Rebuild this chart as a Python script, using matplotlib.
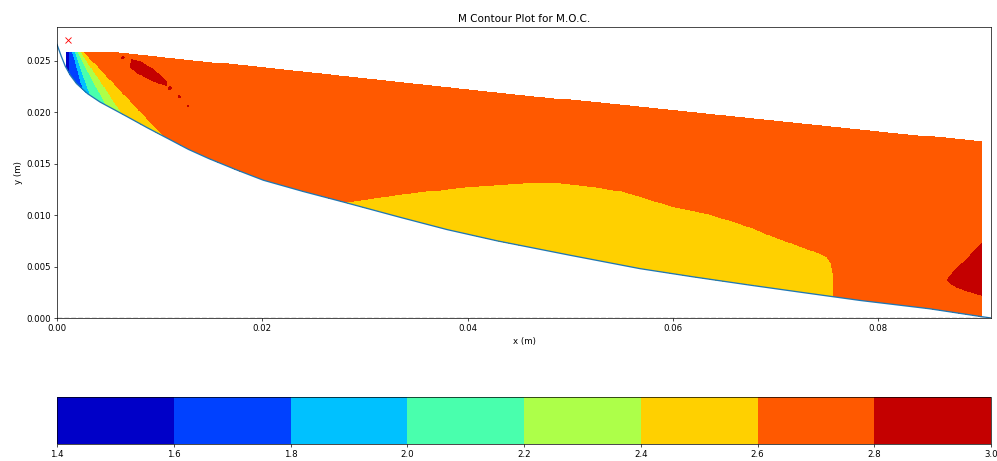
import numpy as np
import matplotlib
matplotlib.use('Agg')
import matplotlib.pyplot as plt
from matplotlib.path import Path

# wall contour
wall_x = [0.0, 0.0004, 0.0008, 0.0013, 0.0019, 0.0030, 0.0042, 0.0055, 0.0068, 0.0088,
          0.0109, 0.0128, 0.0148, 0.0175, 0.0201, 0.0240, 0.0282, 0.0334, 0.0380, 0.0429,
          0.0500, 0.0568, 0.0620, 0.0675, 0.0725, 0.0783, 0.0850, 0.0903, 0.0910]
wall_y = [0.0266, 0.0255, 0.0245, 0.0236, 0.0228, 0.0218, 0.0210, 0.0203, 0.0196, 0.0185,
          0.0174, 0.0164, 0.0155, 0.0144, 0.0134, 0.0123, 0.0112, 0.0098, 0.0086, 0.0075,
          0.0061, 0.0048, 0.0040, 0.0032, 0.0025, 0.0017, 0.0009, 0.0001, 0.0]

# upper edge of the computed domain
top_x = [0.00088, 0.00565, 0.0432, 0.0901]
top_y = [0.02588, 0.02588, 0.02191, 0.01715]

# expansion fan: boundaries between M bands (1.6, 1.8, ..., 2.6)
fan_top_x = [0.00127, 0.00149, 0.00175, 0.00202, 0.00234, 0.00266]
fan_wall_x = [0.00127, 0.00224, 0.00305, 0.0047, 0.0063, 0.0107]
fan_wall_y = [0.0248, 0.0233, 0.0223, 0.0209, 0.0200, 0.0174]
M_first = 1.5
M_step = 0.2

# region with M between 2.4 and 2.6
yellow_x = [0.0281, 0.0331, 0.0396, 0.0461, 0.0487, 0.0526, 0.0552, 0.0568, 0.0601, 0.0633,
            0.0666, 0.0698, 0.0744, 0.0750, 0.0754, 0.0757, 0.0757, 0.0757, 0.0281]
yellow_y = [0.01125, 0.01196, 0.01277, 0.0132, 0.0132, 0.01277, 0.01229, 0.0118, 0.01083, 0.01018,
            0.00921, 0.00791, 0.00629, 0.00600, 0.00540, 0.00402, 0.0024, 0.0, 0.0]
M_yellow = 2.5

# regions with M above 2.8
red_lobe_x = [0.0920, 0.0901, 0.0893, 0.0886, 0.0877, 0.0871, 0.0868, 0.0870, 0.0876, 0.0887, 0.0901, 0.0920]
red_lobe_y = [0.0075, 0.00727, 0.0064, 0.00564, 0.00480, 0.00420, 0.00375, 0.00340, 0.00305, 0.00265, 0.00224, 0.0020]
red_streak_x = [0.00728, 0.00825, 0.00923, 0.01020, 0.01069, 0.01069, 0.00988, 0.00890, 0.00793, 0.00711]
red_streak_y = [0.02510, 0.02487, 0.02422, 0.02347, 0.02299, 0.02257, 0.02283, 0.02332, 0.02380, 0.02445]
red_dot_x = [0.00646, 0.0110, 0.01192, 0.01277]
red_dot_y = [0.02532, 0.02234, 0.02153, 0.02062]
red_dot_r = [0.00012, 0.00016, 0.00011, 0.00007]
M_red = 2.9

levels = [1.4, 1.6, 1.8, 2.0, 2.2, 2.4, 2.6, 2.8, 3.0]

# build the field on a grid
xs = np.linspace(0, 0.091, 900)
ys = np.linspace(0, 0.0283, 300)
X, Y = np.meshgrid(xs, ys)

count = np.zeros_like(X)
for tx, wx, wy in zip(fan_top_x, fan_wall_x, fan_wall_y):
    xline = tx + (wx - tx) * (top_y[0] - Y) / (top_y[0] - wy)
    count += (X > xline)
M = M_first + M_step * count

pts = np.column_stack([X.ravel(), Y.ravel()])
inside = Path(np.column_stack([yellow_x, yellow_y])).contains_points(pts).reshape(X.shape)
M[inside] = M_yellow
for px, py in [(red_lobe_x, red_lobe_y), (red_streak_x, red_streak_y)]:
    inside = Path(np.column_stack([px, py])).contains_points(pts).reshape(X.shape)
    M[inside] = M_red
for dx, dy, dr in zip(red_dot_x, red_dot_y, red_dot_r):
    M[(X - dx) ** 2 + (Y - dy) ** 2 < dr ** 2] = M_red

outside = ((Y > np.interp(X, top_x, top_y)) | (Y < np.interp(X, wall_x, wall_y))
           | (X < top_x[0]) | (X > top_x[-1]))
M = np.ma.masked_where(outside, M)

dpi = 62.32
fig = plt.figure(figsize=(997 / dpi, 461 / dpi), dpi=dpi)
ax = fig.add_axes([57 / 997, 1 - 318 / 461, 934 / 997, 291 / 461])
cax = fig.add_axes([57 / 997, 1 - 444 / 461, 934 / 997, 47 / 461])

cs = ax.contourf(X, Y, M, levels=levels, cmap='jet')
ax.plot(wall_x, wall_y)
ax.axhline(0, color='k', linestyle='--', alpha=0.7)
ax.plot([0.00107], [0.0270], 'rx')
ax.set_xlim(0, 0.091)
ax.set_ylim(0, 0.0283)
ax.set_xlabel('x (m)')
ax.set_ylabel('y (m)')
ax.set_title('M Contour Plot for M.O.C.')

fig.colorbar(cs, cax=cax, orientation='horizontal')

fig.savefig('out.png', dpi=dpi)
